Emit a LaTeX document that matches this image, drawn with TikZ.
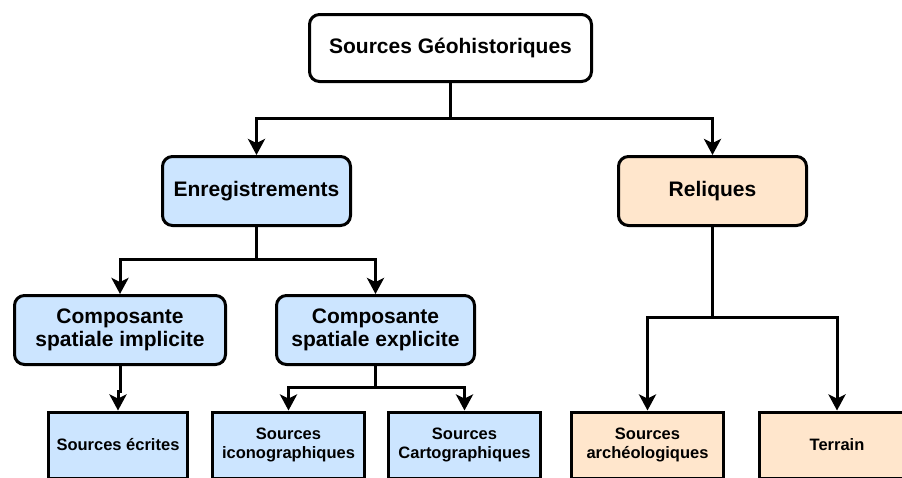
\documentclass[tikz,border=0pt]{standalone}
\usepackage{fontspec}
\setmainfont{Liberation Sans}
\usetikzlibrary{arrows.meta}
\definecolor{blueF}{HTML}{CCE5FF}
\definecolor{peachF}{HTML}{FFE6CC}
\tikzset{
  base/.style={draw=black, line width=3pt, align=center, inner sep=0pt,
    font=\bfseries\fontsize{21}{23.5}\selectfont},
  topbox/.style={base, rounded corners=10pt, fill=white},
  midblue/.style={base, rounded corners=10pt, fill=blueF},
  midpeach/.style={base, rounded corners=10pt, fill=peachF},
  leafblue/.style={base, fill=blueF, minimum height=66pt,
    font=\bfseries\fontsize{16.5}{18.5}\selectfont},
  leafpeach/.style={base, fill=peachF, minimum height=66pt,
    font=\bfseries\fontsize{16.5}{18.5}\selectfont},
  conn/.style={line width=3pt, -{Stealth[length=16pt,width=17pt,inset=4pt]}}
}
\begin{document}
\begin{tikzpicture}[x=1pt,y=-1pt]
\clip (0,0) rectangle (902,477);
\fill[white] (0,0) rectangle (902,477);

\node[topbox, minimum width=282pt, minimum height=67pt] (root) at (450.5,48) {Sources Géohistoriques};

\node[midblue, minimum width=188pt, minimum height=69pt] (enr) at (256.5,191) {Enregistrements};
\node[midpeach, minimum width=188pt, minimum height=69pt] (rel) at (712.5,191) {Reliques};

\node[midblue, minimum width=211pt, minimum height=69pt] (impl) at (120,330) {Composante\\spatiale implicite};
\node[midblue, minimum width=198pt, minimum height=69pt] (expl) at (375.5,330) {Composante\\spatiale explicite};

\node[leafblue, minimum width=139pt] (ecr) at (118,445) {Sources écrites};
\node[leafblue, minimum width=152pt] (ico) at (288.5,445) {Sources\\iconographiques};
\node[leafblue, minimum width=152pt] (car) at (464.5,445) {Sources\\Cartographiques};
\node[leafpeach, minimum width=152pt] (arc) at (647.5,445) {Sources\\archéologiques};
\node[leafpeach, minimum width=155pt] (ter) at (837,445) {Terrain};

\coordinate (b0) at (450.5,118);
\coordinate (b1) at (256.5,259);
\coordinate (b2) at (712.5,317);
\coordinate (b3) at (375.5,387);
\coordinate (b4) at (120,391);

\draw[conn] (root.south) -- (b0) -| (enr.north);
\draw[conn] (root.south) -- (b0) -| (rel.north);
\draw[conn] (enr.south) -- (b1) -| (impl.north);
\draw[conn] (enr.south) -- (b1) -| (expl.north);
\draw[conn] (impl.south) -- (b4) -| (ecr.north);
\draw[conn] (expl.south) -- (b3) -| (ico.north);
\draw[conn] (expl.south) -- (b3) -| (car.north);
\draw[conn] (rel.south) -- (b2) -| (arc.north);
\draw[conn] (rel.south) -- (b2) -| (ter.north);
\end{tikzpicture}
\end{document}
